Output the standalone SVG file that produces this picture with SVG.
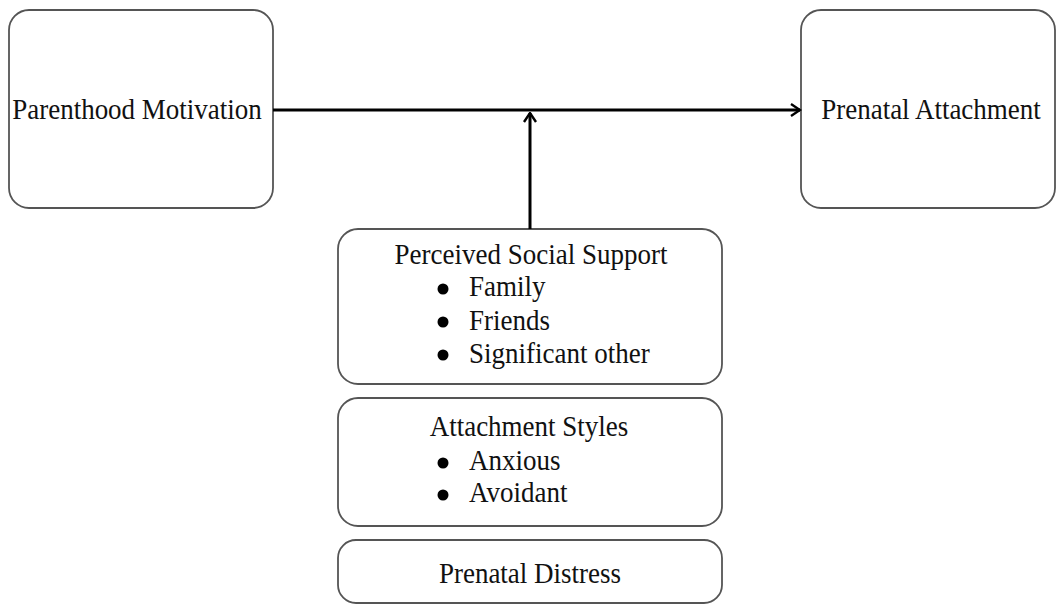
<svg xmlns="http://www.w3.org/2000/svg" width="1057" height="605" viewBox="0 0 1057 605">
<defs>
<style>
.box{fill:#fff;stroke:#555;stroke-width:1.8}
.t{font-family:"Liberation Serif","Times New Roman",serif;font-size:27px;fill:#111}
.c{text-anchor:middle}
.conn{stroke:#000;stroke-width:3;fill:none}
</style>
<marker id="arr" viewBox="0 0 10 10" refX="9" refY="5" markerWidth="5" markerHeight="5" orient="auto" markerUnits="strokeWidth">
<polyline points="3,1 9,5 3,9" fill="none" stroke="#000" stroke-width="1.6"/>
</marker>
</defs>
<rect width="1057" height="605" fill="#fff"/>
<g id="node-parenthood">
<rect class="box" x="9" y="10" width="264" height="198" rx="20"/>
<text class="t c" transform="translate(137,119) scale(1,1.1)">Parenthood Motivation</text>
</g>
<g id="node-prenatal-attachment">
<rect class="box" x="801" y="10" width="254" height="198" rx="20"/>
<text class="t c" transform="translate(931,119) scale(1,1.1)">Prenatal Attachment</text>
</g>
<g id="node-social-support">
<rect class="box" x="338" y="229" width="384" height="155" rx="20"/>
<text class="t c" transform="translate(531,264) scale(1,1.1)">Perceived Social Support</text>
<circle cx="443" cy="289" r="5.5" fill="#000"/>
<text class="t" transform="translate(469,296) scale(1,1.1)">Family</text>
<circle cx="443" cy="322" r="5.5" fill="#000"/>
<text class="t" transform="translate(469,330) scale(1,1.1)">Friends</text>
<circle cx="443" cy="355" r="5.5" fill="#000"/>
<text class="t" transform="translate(469,363) scale(1,1.1)">Significant other</text>
</g>
<g id="node-attachment-styles">
<rect class="box" x="338" y="398" width="384" height="128" rx="20"/>
<text class="t c" transform="translate(529,436) scale(1,1.1)">Attachment Styles</text>
<circle cx="443" cy="463" r="5.5" fill="#000"/>
<text class="t" transform="translate(469,470) scale(1,1.1)">Anxious</text>
<circle cx="443" cy="495" r="5.5" fill="#000"/>
<text class="t" transform="translate(469,502) scale(1,1.1)">Avoidant</text>
</g>
<g id="node-prenatal-distress">
<rect class="box" x="338" y="540" width="384" height="63" rx="18"/>
<text class="t c" transform="translate(530,583) scale(1,1.1)">Prenatal Distress</text>
</g>
<g id="connectors">
<line class="conn" x1="273" y1="110" x2="800" y2="110" marker-end="url(#arr)"/>
<line class="conn" x1="530" y1="229" x2="530" y2="113" marker-end="url(#arr)"/>
</g>
</svg>
